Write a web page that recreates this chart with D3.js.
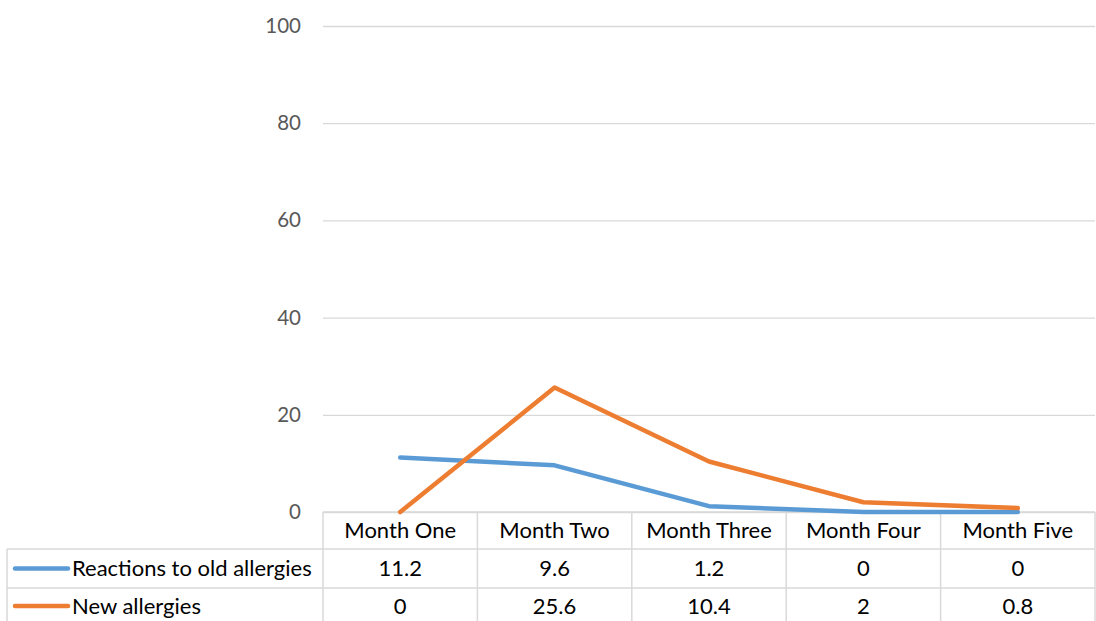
<!DOCTYPE html>
<html>
<head>
<meta charset="utf-8">
<script src="https://cdn.jsdelivr.net/npm/d3@7"></script>
<style>
  html, body { margin: 0; padding: 0; background: #fff; }
  svg { display: block; font-family: Lato, "Open Sans", "Liberation Sans", sans-serif; }
</style>
</head>
<body>
<svg id="chart" width="1096" height="621"></svg>
<script>
// Monthly allergy counts
const categories = ["Month One", "Month Two", "Month Three", "Month Four", "Month Five"];
const seriesNames = ["Reactions to old allergies", "New allergies"];
const oldReactions = [11.2, 9.6, 1.2, 0, 0];
const newAllergies = [0, 25.6, 10.4, 2, 0.8];
const yTicks = [0, 20, 40, 60, 80, 100];
const seriesColors = ["#5b9bd5", "#ed7d31"];

const series = [
  { name: seriesNames[0], values: oldReactions, color: seriesColors[0] },
  { name: seriesNames[1], values: newAllergies, color: seriesColors[1] }
];

const svg = d3.select("#chart");
const plotLeft = 323, plotRight = 1095, plotTop = 26, plotBottom = 512;
const tableLeft = 7;
const rowEdges = [512, 549, 588, 627];
const tableFont = "22px";

const x = d3.scaleBand().domain(categories).range([plotLeft, plotRight]);
const y = d3.scaleLinear().domain([0, 100]).range([plotBottom, plotTop]);

const gridColor = "#d9d9d9";

// Horizontal gridlines and value labels
const yAxis = d3.axisLeft(y).tickValues(yTicks).tickSize(-(plotRight - plotLeft)).tickPadding(22);
const yg = svg.append("g").attr("transform", `translate(${plotLeft},0)`).call(yAxis);
yg.select(".domain").remove();
yg.selectAll(".tick line").attr("stroke", gridColor).attr("stroke-width", 1.3);
yg.selectAll(".tick text").attr("fill", "#595959").style("font-size", "20.5px")
  .style("font-family", "Lato, 'Open Sans', sans-serif");

// Data table grid
const tg = svg.append("g");
// horizontal rules
tg.append("line").attr("x1", plotLeft).attr("x2", plotRight).attr("y1", rowEdges[0]).attr("y2", rowEdges[0]);
tg.append("line").attr("x1", tableLeft).attr("x2", plotRight).attr("y1", rowEdges[1]).attr("y2", rowEdges[1]);
tg.append("line").attr("x1", tableLeft).attr("x2", plotRight).attr("y1", rowEdges[2]).attr("y2", rowEdges[2]);
// vertical rules at category boundaries
const bounds = categories.map(c => x(c)).concat([plotRight]);
bounds.forEach(bx => {
  tg.append("line").attr("x1", bx).attr("x2", bx).attr("y1", rowEdges[0]).attr("y2", rowEdges[3]);
});
tg.append("line").attr("x1", tableLeft).attr("x2", tableLeft).attr("y1", rowEdges[1]).attr("y2", rowEdges[3]);
tg.selectAll("line").attr("stroke", gridColor).attr("stroke-width", 1.5);

// Category header cells
svg.append("g").selectAll("text").data(categories).join("text")
  .attr("x", d => x(d) + x.bandwidth() / 2)
  .attr("y", (rowEdges[0] + rowEdges[1]) / 2)
  .attr("dy", "0.35em")
  .attr("text-anchor", "middle")
  .attr("fill", "#000")
  .style("font-size", tableFont)
  .text(d => d);

// Series rows: legend key, name and values
series.forEach((s, i) => {
  const cy = (rowEdges[i + 1] + rowEdges[i + 2]) / 2 - (i === 1 ? 1.5 : 0);
  svg.append("line")
    .attr("x1", 15).attr("x2", 68).attr("y1", cy).attr("y2", cy)
    .attr("stroke", s.color).attr("stroke-width", 4.5).attr("stroke-linecap", "round");
  svg.append("text")
    .attr("x", 72).attr("y", cy).attr("dy", "0.35em")
    .attr("fill", "#000").style("font-size", tableFont)
    .text(s.name);
  svg.append("g").selectAll("text").data(s.values).join("text")
    .attr("x", (d, j) => x(categories[j]) + x.bandwidth() / 2)
    .attr("y", cy).attr("dy", "0.35em")
    .attr("text-anchor", "middle")
    .attr("fill", "#000").style("font-size", tableFont)
    .text(d => d);
});

// Series lines
const line = d3.line()
  .x((d, j) => x(categories[j]) + x.bandwidth() / 2)
  .y(d => y(d));

svg.append("g").selectAll("path").data(series).join("path")
  .attr("d", s => line(s.values))
  .attr("fill", "none")
  .attr("stroke", s => s.color)
  .attr("stroke-width", 4.5)
  .attr("stroke-linejoin", "round")
  .attr("stroke-linecap", "round");
</script>
</body>
</html>
